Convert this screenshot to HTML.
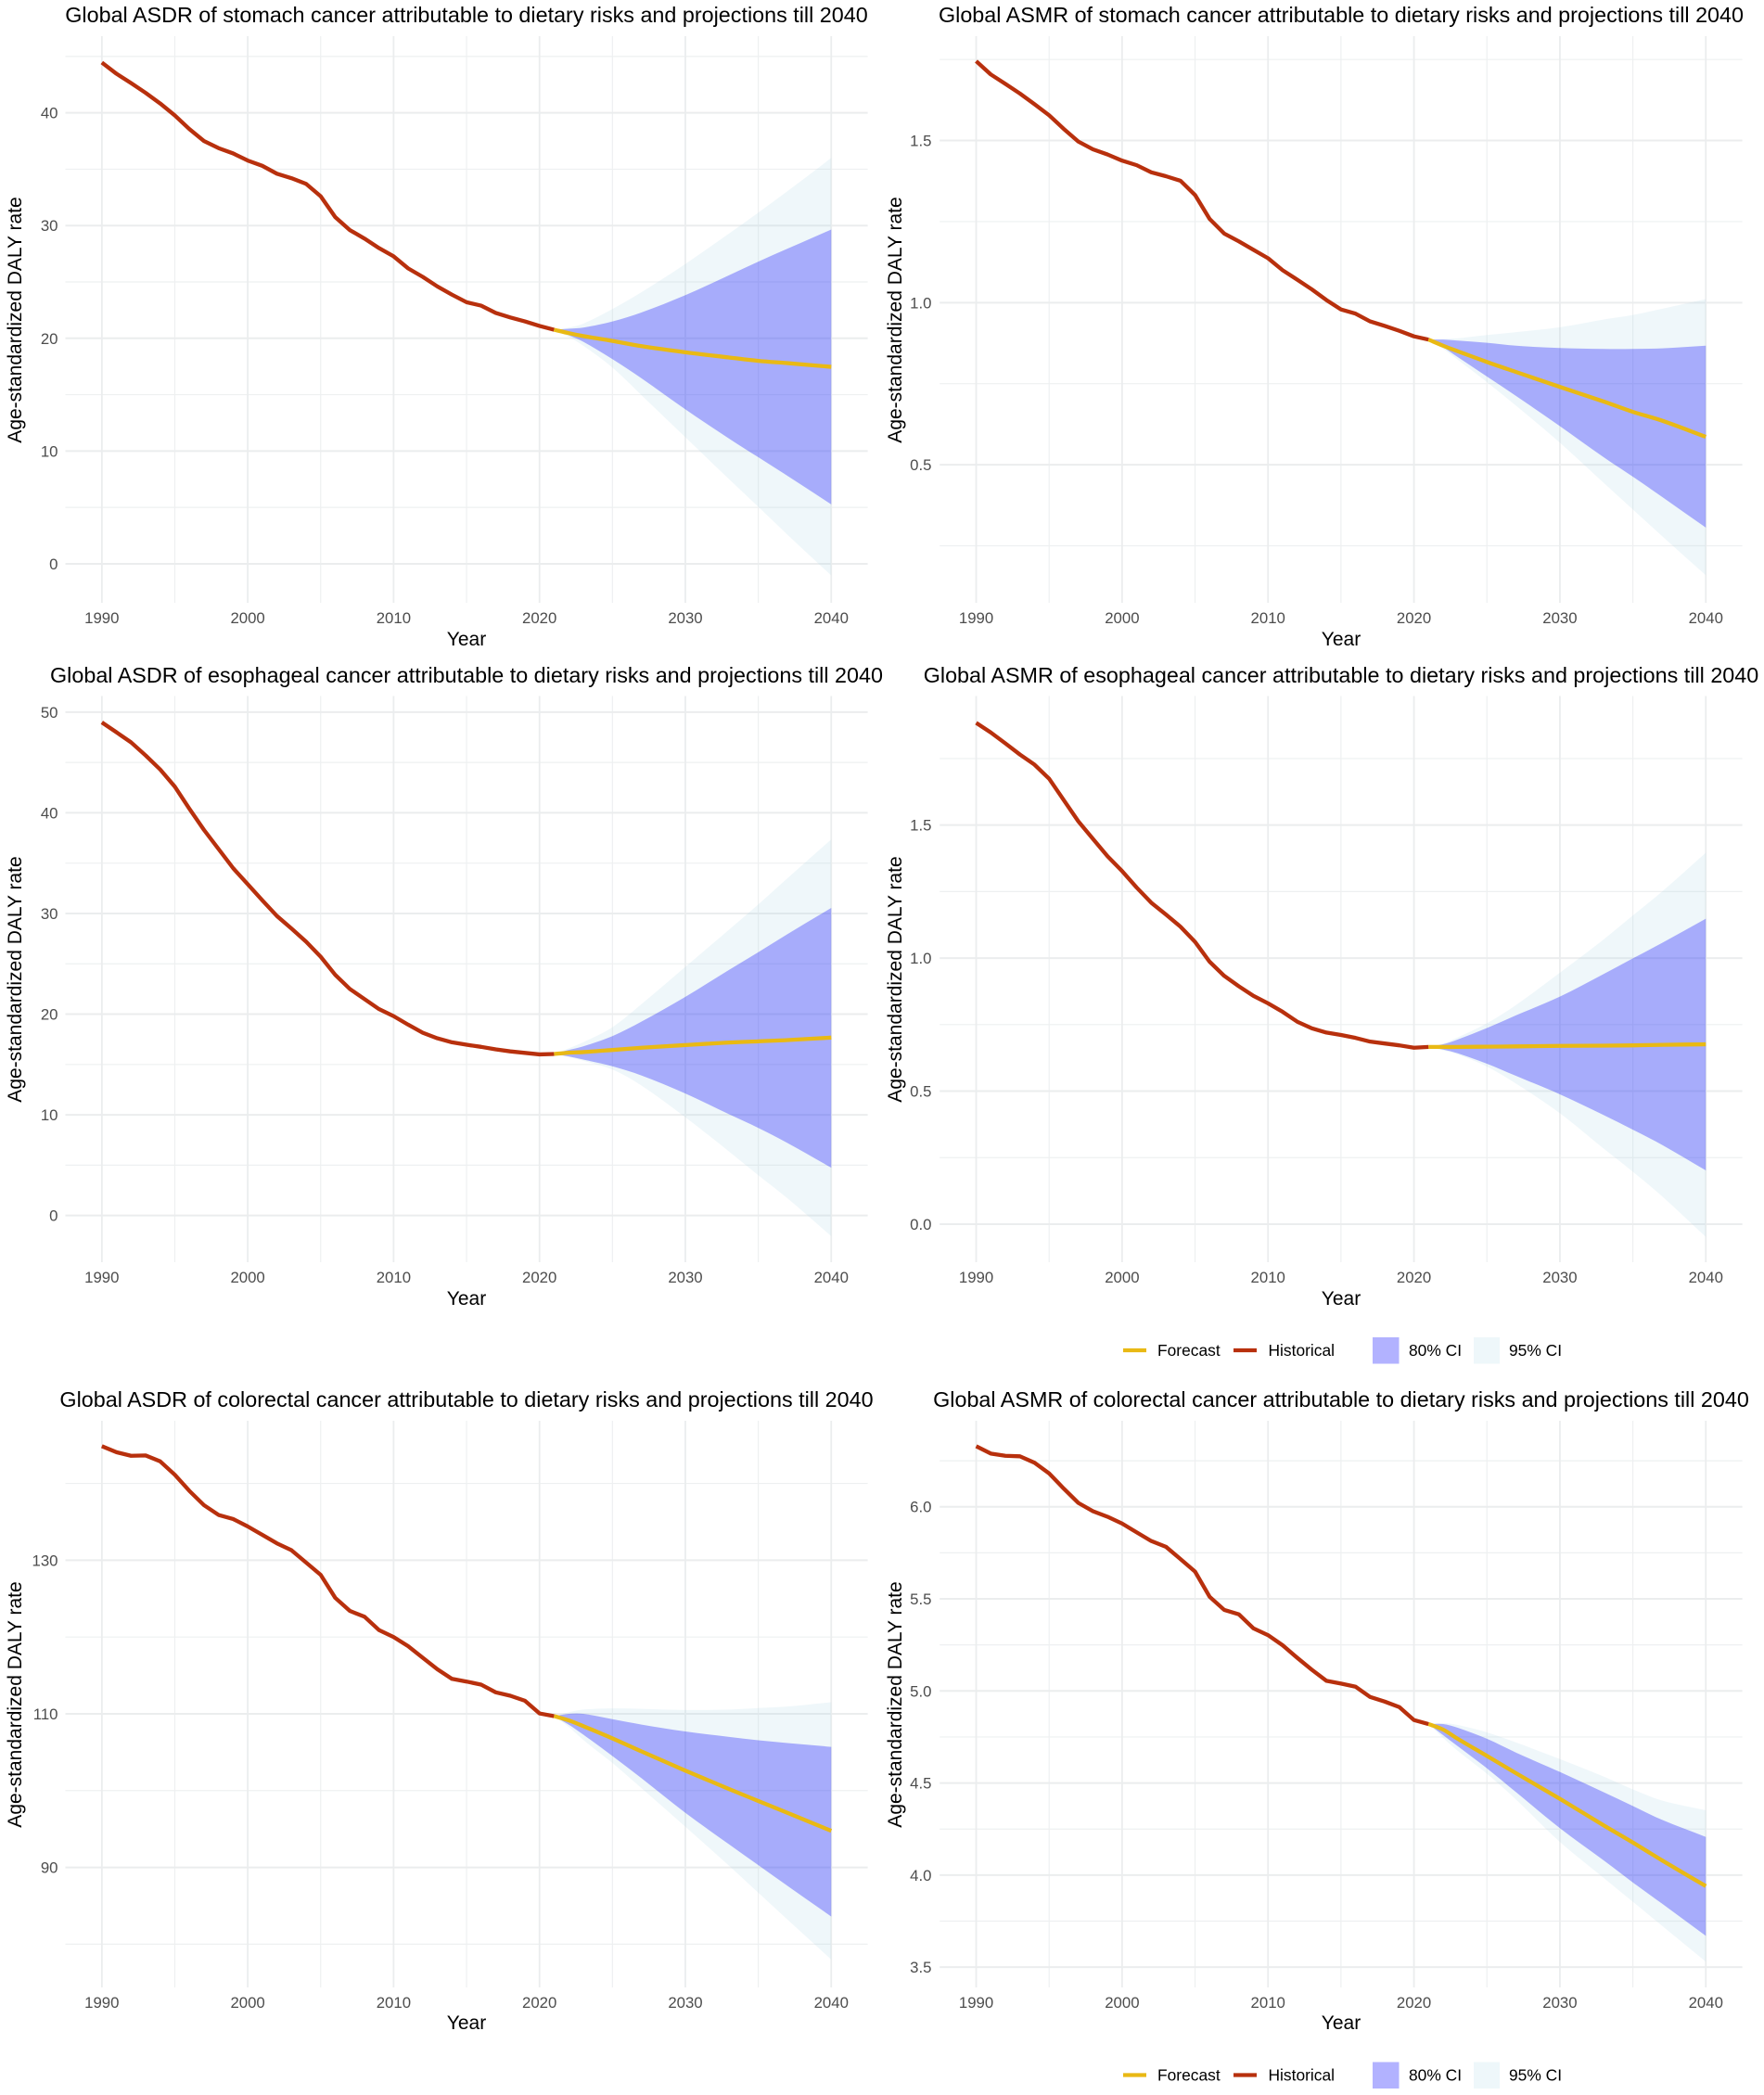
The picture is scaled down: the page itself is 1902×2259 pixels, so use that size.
<!DOCTYPE html>
<html lang="en">
<head>
<meta charset="utf-8">
<title>Global ASDR and ASMR of digestive cancers attributable to dietary risks</title>
<style>
html,body{margin:0;padding:0;background:#fff;}
svg{display:block;font-family:"Liberation Sans",Arial,sans-serif;}
.title{font-size:23.35px;fill:#000;text-anchor:middle;}
.axis-title{font-size:21px;fill:#000;text-anchor:middle;}
.tick{font-size:16.8px;fill:#4d4d4d;}
.legend-text{font-size:17.4px;fill:#000;}
</style>
</head>
<body>
<svg id="figure" xmlns="http://www.w3.org/2000/svg" width="1902" height="2259" viewBox="0 0 1902 2259">
  <rect width="1902" height="2259" fill="#fff"/>

  <g id="p1"></g>
  <g id="p2"></g>
  <g id="p3"></g>
  <g id="p4"></g>
  <g id="p5"></g>
  <g id="p6"></g>

  <text class="title" x="503" y="24">Global ASDR of stomach cancer attributable to dietary risks and projections till 2040</text>
  <text class="title" x="1446" y="24">Global ASMR of stomach cancer attributable to dietary risks and projections till 2040</text>
  <text class="title" x="503" y="736">Global ASDR of esophageal cancer attributable to dietary risks and projections till 2040</text>
  <text class="title" x="1446" y="736">Global ASMR of esophageal cancer attributable to dietary risks and projections till 2040</text>
  <text class="title" x="503" y="1517">Global ASDR of colorectal cancer attributable to dietary risks and projections till 2040</text>
  <text class="title" x="1446" y="1517">Global ASMR of colorectal cancer attributable to dietary risks and projections till 2040</text>

  <text class="axis-title" x="503" y="696">Year</text>
  <text class="axis-title" x="1446" y="696">Year</text>
  <text class="axis-title" x="503" y="1407">Year</text>
  <text class="axis-title" x="1446" y="1407">Year</text>
  <text class="axis-title" x="503" y="2188">Year</text>
  <text class="axis-title" x="1446" y="2188">Year</text>

  <text class="axis-title" transform="translate(23,345) rotate(-90)">Age-standardized DALY rate</text>
  <text class="axis-title" transform="translate(972,345) rotate(-90)">Age-standardized DALY rate</text>
  <text class="axis-title" transform="translate(23,1056) rotate(-90)">Age-standardized DALY rate</text>
  <text class="axis-title" transform="translate(972,1056) rotate(-90)">Age-standardized DALY rate</text>
  <text class="axis-title" transform="translate(23,1838) rotate(-90)">Age-standardized DALY rate</text>
  <text class="axis-title" transform="translate(972,1838) rotate(-90)">Age-standardized DALY rate</text>

  <g>
    <g>
      <line x1="1211" x2="1236" y1="1456" y2="1456" stroke="#e9b914" stroke-width="4.3"/>
      <text class="legend-text" x="1248" y="1462">Forecast</text>
    </g>
    <g>
      <line x1="1330" x2="1355" y1="1456" y2="1456" stroke="#b8300d" stroke-width="4.3"/>
      <text class="legend-text" x="1367.5" y="1462">Historical</text>
    </g>
    <g>
      <rect x="1480" y="1442" width="28.5" height="28.5" fill="#b2b2ff"/>
      <text class="legend-text" x="1519" y="1462">80% CI</text>
    </g>
    <g>
      <rect x="1589" y="1442" width="28" height="28.5" fill="#eef7fa"/>
      <text class="legend-text" x="1627" y="1462">95% CI</text>
    </g>
  </g>

  <g>
    <g>
      <line x1="1211" x2="1236" y1="2237.5" y2="2237.5" stroke="#e9b914" stroke-width="4.3"/>
      <text class="legend-text" x="1248" y="2243.5">Forecast</text>
    </g>
    <g>
      <line x1="1330" x2="1355" y1="2237.5" y2="2237.5" stroke="#b8300d" stroke-width="4.3"/>
      <text class="legend-text" x="1367.5" y="2243.5">Historical</text>
    </g>
    <g>
      <rect x="1480" y="2223.5" width="28.5" height="28.5" fill="#b2b2ff"/>
      <text class="legend-text" x="1519" y="2243.5">80% CI</text>
    </g>
    <g>
      <rect x="1589" y="2223.5" width="28" height="28.5" fill="#eef7fa"/>
      <text class="legend-text" x="1627" y="2243.5">95% CI</text>
    </g>
  </g>
</svg>

<script>
// ---- Shared categories ----
const historicalYears = [1990,1991,1992,1993,1994,1995,1996,1997,1998,1999,2000,2001,2002,2003,2004,2005,2006,2007,2008,2009,2010,2011,2012,2013,2014,2015,2016,2017,2018,2019,2020,2021];
const forecastYears = [2021,2022,2023,2025,2027,2030,2033,2035,2037,2040];
const xMajorTicks = [1990,2000,2010,2020,2030,2040];
const xMinorTicks = [1995,2005,2015,2025,2035];

// ---- ASDR stomach ----
const asdrStomachHist = [44.46,43.47,42.64,41.77,40.83,39.77,38.56,37.5,36.87,36.4,35.77,35.3,34.6,34.2,33.7,32.6,30.75,29.6,28.85,28.0,27.27,26.2,25.45,24.6,23.87,23.2,22.9,22.25,21.85,21.5,21.1,20.76];
const asdrStomachMean = [20.76,20.46,20.2,19.77,19.3,18.76,18.3,18.0,17.8,17.47];
const asdrStomachHi80 = [20.76,20.85,20.95,21.5,22.3,23.83,25.6,26.8,27.95,29.65];
const asdrStomachLo80 = [20.76,20.27,19.7,18.15,16.45,13.7,11.1,9.45,7.8,5.27];
const asdrStomachHi95 = [20.76,20.95,21.3,22.6,24.1,26.6,29.3,31.15,33.05,36.0];
const asdrStomachLo95 = [20.76,20.13,19.35,17.4,14.95,11.22,7.5,5.05,2.58,-1.04];
const asdrStomachYMajor = [0,10,20,30,40];
const asdrStomachYMinor = [5,15,25,35,45];
const asdrStomachYLabels = ["0","10","20","30","40"];

// ---- ASMR stomach ----
const asmrStomachHist = [1.745,1.704,1.675,1.645,1.612,1.578,1.536,1.497,1.473,1.457,1.438,1.424,1.402,1.39,1.376,1.332,1.258,1.213,1.189,1.163,1.137,1.10,1.071,1.041,1.008,0.979,0.966,0.942,0.928,0.913,0.896,0.886];
const asmrStomachMean = [0.886,0.867,0.85,0.817,0.786,0.74,0.695,0.663,0.636,0.586];
const asmrStomachHi80 = [0.886,0.886,0.883,0.876,0.867,0.86,0.857,0.857,0.859,0.867];
const asmrStomachLo80 = [0.886,0.862,0.832,0.772,0.712,0.619,0.523,0.463,0.401,0.306];
const asmrStomachHi95 = [0.886,0.888,0.89,0.90,0.909,0.924,0.948,0.962,0.981,1.011];
const asmrStomachLo95 = [0.886,0.857,0.824,0.755,0.682,0.568,0.444,0.362,0.28,0.159];
const asmrStomachYMajor = [0.5,1.0,1.5];
const asmrStomachYMinor = [0.25,0.75,1.25,1.75];
const asmrStomachYLabels = ["0.5","1.0","1.5"];

// ---- ASDR esophageal ----
const asdrEsophagealHist = [48.98,48,47,45.7,44.3,42.6,40.4,38.3,36.4,34.5,32.9,31.3,29.75,28.5,27.2,25.7,23.9,22.5,21.5,20.5,19.8,18.95,18.15,17.6,17.2,16.96,16.75,16.5,16.3,16.15,16.0,16.04];
const asdrEsophagealMean = [16.04,16.17,16.23,16.44,16.66,16.93,17.18,17.3,17.42,17.67];
const asdrEsophagealHi80 = [16.04,16.44,16.8,17.82,19.26,21.72,24.4,26.15,27.95,30.55];
const asdrEsophagealLo80 = [16.04,15.8,15.49,14.82,13.9,12.12,10.05,8.7,7.2,4.75];
const asdrEsophagealHi95 = [16.04,16.6,17.2,18.7,21.0,24.7,28.4,30.9,33.5,37.36];
const asdrEsophagealLo95 = [16.04,15.74,15.37,14.5,12.9,9.75,6.35,4.0,1.7,-2.06];
const asdrEsophagealYMajor = [0,10,20,30,40,50];
const asdrEsophagealYMinor = [5,15,25,35,45];
const asdrEsophagealYLabels = ["0","10","20","30","40","50"];

// ---- ASMR esophageal ----
const asmrEsophagealHist = [1.884,1.848,1.807,1.765,1.727,1.674,1.594,1.514,1.448,1.383,1.327,1.265,1.208,1.164,1.118,1.061,0.986,0.933,0.894,0.858,0.83,0.798,0.761,0.736,0.72,0.711,0.70,0.686,0.679,0.672,0.663,0.666];
const asmrEsophagealMean = [0.666,0.666,0.666,0.667,0.668,0.67,0.671,0.672,0.674,0.676];
const asmrEsophagealHi80 = [0.666,0.676,0.694,0.737,0.785,0.855,0.94,0.999,1.057,1.148];
const asmrEsophagealLo80 = [0.666,0.656,0.642,0.603,0.557,0.488,0.41,0.355,0.298,0.202];
const asmrEsophagealHi95 = [0.666,0.679,0.702,0.755,0.824,0.945,1.07,1.16,1.25,1.396];
const asmrEsophagealLo95 = [0.666,0.653,0.638,0.592,0.528,0.417,0.284,0.197,0.105,-0.048];
const asmrEsophagealYMajor = [0,0.5,1.0,1.5];
const asmrEsophagealYMinor = [0.25,0.75,1.25,1.75];
const asmrEsophagealYLabels = ["0.0","0.5","1.0","1.5"];

// ---- ASDR colorectal ----
const asdrColorectalHist = [144.85,144.07,143.6,143.65,142.87,141.13,139.03,137.17,135.9,135.37,134.4,133.3,132.2,131.3,129.7,128.1,125.1,123.4,122.65,120.9,120,118.8,117.3,115.8,114.55,114.2,113.8,112.8,112.35,111.7,110.05,109.7];
const asdrColorectalMean = [109.7,109.15,108.4,106.8,105.1,102.6,100.2,98.65,97.1,94.76];
const asdrColorectalHi80 = [109.7,110,110,109.3,108.6,107.7,107,106.55,106.2,105.7];
const asdrColorectalLo80 = [109.7,108.6,107.3,104.5,101.6,97.1,93,90.3,87.6,83.6];
const asdrColorectalHi95 = [109.7,110.2,110.55,110.7,110.65,110.5,110.55,110.75,110.95,111.5];
const asdrColorectalLo95 = [109.7,108.3,106.6,103.6,100.3,95.3,90.2,86.7,83.2,78];
const asdrColorectalYMajor = [90,110,130];
const asdrColorectalYMinor = [80,100,120,140];
const asdrColorectalYLabels = ["90","110","130"];

// ---- ASMR colorectal ----
const asmrColorectalHist = [6.329,6.289,6.277,6.274,6.239,6.181,6.099,6.021,5.976,5.946,5.909,5.861,5.814,5.783,5.716,5.648,5.511,5.44,5.416,5.34,5.303,5.248,5.18,5.115,5.055,5.04,5.023,4.967,4.942,4.912,4.842,4.82];
const asmrColorectalMean = [4.82,4.79,4.74,4.647,4.553,4.414,4.27,4.177,4.08,3.94];
const asmrColorectalHi80 = [4.82,4.82,4.80,4.74,4.665,4.56,4.45,4.375,4.30,4.207];
const asmrColorectalLo80 = [4.82,4.76,4.70,4.58,4.45,4.255,4.08,3.96,3.845,3.67];
const asmrColorectalHi95 = [4.82,4.825,4.815,4.775,4.72,4.63,4.535,4.465,4.405,4.352];
const asmrColorectalLo95 = [4.82,4.745,4.675,4.55,4.41,4.18,3.985,3.855,3.725,3.53];
const asmrColorectalYMajor = [3.5,4.0,4.5,5.0,5.5,6.0];
const asmrColorectalYMinor = [3.75,4.25,4.75,5.25,5.75,6.25];
const asmrColorectalYLabels = ["3.5","4.0","4.5","5.0","5.5","6.0"];

// ---- Panel wiring ----
const SVG_NS = 'http://www.w3.org/2000/svg';
const X_DOMAIN = [1987.5, 2042.5];
const COLUMNS = { left: { l: 70.5, r: 935.6, labelX: 62.5 }, right: { l: 1013.2, r: 1878.6, labelX: 1004.5 } };

const panelConfigs = [
  { id: 'p1', col: COLUMNS.left,  top: 39,    bottom: 650,  yDomain: [-3.46, 46.8],  hist: asdrStomachHist, mean: asdrStomachMean, hi80: asdrStomachHi80, lo80: asdrStomachLo80, hi95: asdrStomachHi95, lo95: asdrStomachLo95, major: asdrStomachYMajor, minor: asdrStomachYMinor, labels: asdrStomachYLabels },
  { id: 'p2', col: COLUMNS.right, top: 39,    bottom: 650,  yDomain: [0.074, 1.822], hist: asmrStomachHist, mean: asmrStomachMean, hi80: asmrStomachHi80, lo80: asmrStomachLo80, hi95: asmrStomachHi95, lo95: asmrStomachLo95, major: asmrStomachYMajor, minor: asmrStomachYMinor, labels: asmrStomachYLabels },
  { id: 'p3', col: COLUMNS.left,  top: 750.5, bottom: 1361, yDomain: [-4.64, 51.6],  hist: asdrEsophagealHist, mean: asdrEsophagealMean, hi80: asdrEsophagealHi80, lo80: asdrEsophagealLo80, hi95: asdrEsophagealHi95, lo95: asdrEsophagealLo95, major: asdrEsophagealYMajor, minor: asdrEsophagealYMinor, labels: asdrEsophagealYLabels },
  { id: 'p4', col: COLUMNS.right, top: 750.5, bottom: 1361, yDomain: [-0.143, 1.985], hist: asmrEsophagealHist, mean: asmrEsophagealMean, hi80: asmrEsophagealHi80, lo80: asmrEsophagealLo80, hi95: asmrEsophagealHi95, lo95: asmrEsophagealLo95, major: asmrEsophagealYMajor, minor: asmrEsophagealYMinor, labels: asmrEsophagealYLabels },
  { id: 'p5', col: COLUMNS.left,  top: 1532,  bottom: 2143, yDomain: [74.37, 148.16], hist: asdrColorectalHist, mean: asdrColorectalMean, hi80: asdrColorectalHi80, lo80: asdrColorectalLo80, hi95: asdrColorectalHi95, lo95: asdrColorectalLo95, major: asdrColorectalYMajor, minor: asdrColorectalYMinor, labels: asdrColorectalYLabels },
  { id: 'p6', col: COLUMNS.right, top: 1532,  bottom: 2143, yDomain: [3.39, 6.467],  hist: asmrColorectalHist, mean: asmrColorectalMean, hi80: asmrColorectalHi80, lo80: asmrColorectalLo80, hi95: asmrColorectalHi95, lo95: asmrColorectalLo95, major: asmrColorectalYMajor, minor: asmrColorectalYMinor, labels: asmrColorectalYLabels }
];

function make(tag, parent, attrs) {
  const node = document.createElementNS(SVG_NS, tag);
  Object.keys(attrs).forEach(function (k) { node.setAttribute(k, attrs[k]); });
  parent.appendChild(node);
  return node;
}

// Straight polyline through the data points.
function linePath(xs, ys, xScale, yScale) {
  return xs.map(function (x, i) {
    return (i ? 'L' : 'M') + xScale(x).toFixed(2) + ' ' + yScale(ys[i]).toFixed(2);
  }).join(' ');
}

// Smooth cubic segments through the data points, using finite-difference tangents.
function curveSegments(xs, ys, xScale, yScale) {
  const px = xs.map(xScale);
  const py = ys.map(yScale);
  const last = px.length - 1;
  const slope = px.map(function (_, i) {
    const a = Math.max(i - 1, 0);
    const b = Math.min(i + 1, last);
    return (py[b] - py[a]) / (px[b] - px[a]);
  });
  let out = '';
  for (let i = 0; i < last; i++) {
    const h = (px[i + 1] - px[i]) / 3;
    out += ' C' + (px[i] + h).toFixed(2) + ' ' + (py[i] + slope[i] * h).toFixed(2) + ' ' +
      (px[i + 1] - h).toFixed(2) + ' ' + (py[i + 1] - slope[i + 1] * h).toFixed(2) + ' ' +
      px[i + 1].toFixed(2) + ' ' + py[i + 1].toFixed(2);
  }
  return out;
}

function curvePath(xs, ys, xScale, yScale) {
  return 'M' + xScale(xs[0]).toFixed(2) + ' ' + yScale(ys[0]).toFixed(2) + curveSegments(xs, ys, xScale, yScale);
}

function bandPath(xs, hi, lo, xScale, yScale) {
  const rx = xs.slice().reverse();
  const rl = lo.slice().reverse();
  return curvePath(xs, hi, xScale, yScale) +
    ' L' + xScale(rx[0]).toFixed(2) + ' ' + yScale(rl[0]).toFixed(2) +
    curveSegments(rx, rl, xScale, yScale) + ' Z';
}

function drawPanel(cfg) {
  const g = document.getElementById(cfg.id);
  const left = cfg.col.l, right = cfg.col.r;
  const xScale = function (v) { return left + (v - X_DOMAIN[0]) / (X_DOMAIN[1] - X_DOMAIN[0]) * (right - left); };
  const yScale = function (v) { return cfg.bottom - (v - cfg.yDomain[0]) / (cfg.yDomain[1] - cfg.yDomain[0]) * (cfg.bottom - cfg.top); };

  cfg.minor.forEach(function (v) {
    const el = make('line', g, { x1: left, x2: right, y1: yScale(v), y2: yScale(v), stroke: '#eef0f1', 'stroke-width': 1.2 });
    
    
  });
  xMinorTicks.forEach(function (v) {
    const el = make('line', g, { x1: xScale(v), x2: xScale(v), y1: cfg.top, y2: cfg.bottom, stroke: '#eef0f1', 'stroke-width': 1.2 });
    
    
  });
  cfg.major.forEach(function (v) {
    const el = make('line', g, { x1: left, x2: right, y1: yScale(v), y2: yScale(v), stroke: '#ebedee', 'stroke-width': 2 });
    
    
  });
  xMajorTicks.forEach(function (v) {
    const el = make('line', g, { x1: xScale(v), x2: xScale(v), y1: cfg.top, y2: cfg.bottom, stroke: '#ebedee', 'stroke-width': 1.8 });
    
    
  });

  const band95 = make('path', g, { d: bandPath(forecastYears, cfg.hi95, cfg.lo95, xScale, yScale), fill: '#add8e6', 'fill-opacity': 0.2 });
  
  

  const band80 = make('path', g, { d: bandPath(forecastYears, cfg.hi80, cfg.lo80, xScale, yScale), fill: '#0000ff', 'fill-opacity': 0.3 });
  
  

  const histLine = make('path', g, { d: linePath(historicalYears, cfg.hist, xScale, yScale), fill: 'none', stroke: '#b8300d', 'stroke-width': 4.3, 'stroke-linejoin': 'round' });
  
  

  const meanLine = make('path', g, { d: curvePath(forecastYears, cfg.mean, xScale, yScale), fill: 'none', stroke: '#e9b914', 'stroke-width': 4.3, 'stroke-linejoin': 'round' });
  
  

  cfg.major.forEach(function (v, i) {
    const t = make('text', g, { class: 'tick', x: cfg.col.labelX, y: yScale(v) + 6, 'text-anchor': 'end' });
    t.textContent = cfg.labels[i];
    
    
  });
  xMajorTicks.forEach(function (v) {
    const t = make('text', g, { class: 'tick', x: xScale(v), y: cfg.bottom + 22, 'text-anchor': 'middle' });
    t.textContent = String(v);
    
    
  });
}

panelConfigs.forEach(drawPanel);
</script>
</body>
</html>
